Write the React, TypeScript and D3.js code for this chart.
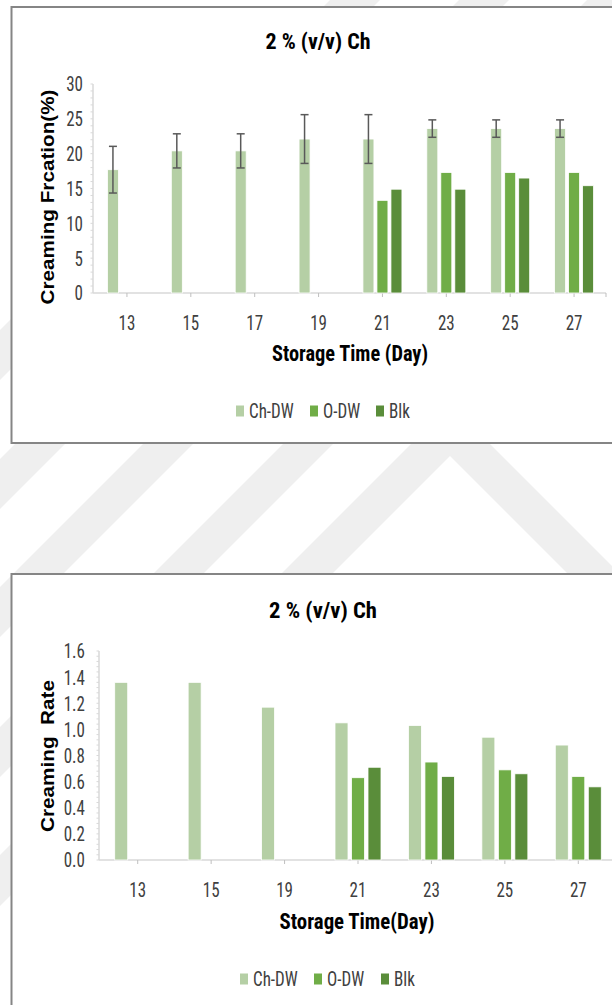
import React from 'react';
import * as d3 from 'd3';

// ---- Data ----------------------------------------------------------------
const seriesNames = ['Ch-DW', 'O-DW', 'Blk'];
const seriesColors = ['#B5CFA5', '#70AD47', '#5A8D3A'];

// Creaming fraction (%) vs storage time
const fractionDays = ['13', '15', '17', '19', '21', '23', '25', '27'];
const fractionChDW = [17.7, 20.4, 20.4, 22.1, 22.1, 23.6, 23.6, 23.6];
const fractionODW = [null, null, null, null, 13.3, 17.3, 17.3, 17.3];
const fractionBlk = [null, null, null, null, 14.9, 14.9, 16.5, 15.4];
const fractionChDWError = [3.35, 2.45, 2.45, 3.5, 3.5, 1.25, 1.25, 1.25];
const fractionTicks = [0, 5, 10, 15, 20, 25, 30];

// Creaming rate vs storage time
const rateDays = ['13', '15', '19', '21', '23', '25', '27'];
const rateChDW = [1.36, 1.36, 1.17, 1.05, 1.03, 0.94, 0.88];
const rateODW = [null, null, null, 0.63, 0.75, 0.69, 0.64];
const rateBlk = [null, null, null, 0.71, 0.64, 0.66, 0.56];
const rateTicks = [0, 0.2, 0.4, 0.6, 0.8, 1.0, 1.2, 1.4, 1.6];

// Faint diagonal background bands (x + y offsets)
const watermarkBands = [330, 459, 587, 727];

const NARROW = '"Liberation Sans Narrow", "Arial Narrow", "Roboto Condensed", sans-serif';
const WIDE = '"Liberation Sans", Arial, sans-serif';
const STRETCH = 1.22; // text is drawn taller than wide

type Layout = {
  frameY: number;
  frameH: number;
  x0: number;
  axisX: number;
  x1: number;
  yTop: number;
  yBottom: number;
  barW: number;
  gap: number;
  title: [number, number, number];
  yTitle: [number, number, number];
  xTitle: [number, number, number];
  xLabelY: number;
  yLabelX: number;
  legendY: number;
  legendX: number[];
  endTick: boolean;
  minorStep: number;
};

type TProps = {
  x: number;
  y: number;
  anchor?: 'start' | 'middle' | 'end';
  size: number;
  bold?: boolean;
  family?: string;
  fill?: string;
  length?: number;
  dy?: string;
  rotate?: number;
  children: React.ReactNode;
};

// Text placed at (x, y) and stretched vertically
function SText({ x, y, anchor = 'start', size, bold, family = NARROW, fill = '#404040', length, dy, rotate = 0, children }: TProps) {
  const tf = rotate
    ? `translate(${x},${y}) rotate(${rotate}) scale(${STRETCH},1)`
    : `translate(${x},${y}) scale(1,${STRETCH})`;
  return (
    <g transform={tf}>
      <text
        x={0}
        y={0}
        dy={dy}
        textAnchor={anchor}
        fontFamily={family}
        fontWeight={bold ? 'bold' : 'normal'}
        fontSize={size}
        fill={fill}
        textLength={length}
        lengthAdjust={length ? 'spacingAndGlyphs' : undefined}
        style={{ whiteSpace: 'pre' }}
      >
        {children}
      </text>
    </g>
  );
}

type ChartProps = {
  days: string[];
  values: (number | null)[][];
  errors?: number[];
  ticks: number[];
  format: (v: number) => string;
  yTitle: string;
  xTitle: string;
  layout: Layout;
};

function Chart({ days, values, errors, ticks, format, yTitle, xTitle, layout: L }: ChartProps) {
  const x = d3.scaleBand<string>().domain(days).range([L.x0, L.x1]).paddingInner(0).paddingOuter(0);
  const y = d3
    .scaleLinear()
    .domain([0, ticks[ticks.length - 1]])
    .range([L.yBottom, L.yTop]);
  const center = (d: string) => (x(d) as number) + x.bandwidth() / 2;
  const minor = d3.range(0, ticks[ticks.length - 1] + 1e-9, L.minorStep);

  return (
    <g>
      <rect x={11.5} y={L.frameY} width={640} height={L.frameH} fill="#fff" stroke="#858585" strokeWidth={2} />
      <SText x={L.title[0]} y={L.title[1]} anchor="middle" size={18} bold fill="#000" length={L.title[2]}>
        2 % (v/v) Ch
      </SText>

      {/* y axis */}
      <line x1={L.axisX} x2={L.axisX} y1={L.yTop} y2={L.yBottom} stroke="#d9d9d9" strokeWidth={1.5} />
      {minor.map((v, i) => (
        <line key={'m' + i} x1={L.axisX - 2.5} x2={L.axisX} y1={y(v)} y2={y(v)} stroke="#d9d9d9" strokeWidth={1} />
      ))}
      {ticks.map((t) => (
        <SText key={'yt' + t} x={L.yLabelX} y={y(t)} dy="0.36em" anchor="end" size={17}>
          {format(t)}
        </SText>
      ))}

      {/* x axis */}
      <line x1={L.axisX} x2={L.x1} y1={L.yBottom} y2={L.yBottom} stroke="#d9d9d9" strokeWidth={1.5} />
      {days.map((d) => (
        <g key={'xt' + d}>
          <line x1={center(d)} x2={center(d)} y1={L.yBottom} y2={L.yBottom + 4} stroke="#bfbfbf" strokeWidth={1} />
          <SText x={center(d)} y={L.xLabelY} anchor="middle" size={17}>
            {d}
          </SText>
        </g>
      ))}
      {L.endTick && (
        <line x1={L.x1} x2={L.x1} y1={L.yBottom} y2={L.yBottom + 4} stroke="#bfbfbf" strokeWidth={1} />
      )}

      {/* bars */}
      {values.map((series, si) =>
        series.map((v, di) => {
          if (v == null) return null;
          const cx = center(days[di]) + (si - 1) * (L.barW + L.gap);
          return (
            <rect
              key={`b${si}-${di}`}
              x={cx - L.barW / 2}
              y={y(v)}
              width={L.barW}
              height={y(0) - y(v)}
              fill={seriesColors[si]}
              stroke="#ffffff"
              strokeWidth={0.8}
            />
          );
        })
      )}

      {/* error bars on the first series */}
      {errors &&
        errors.map((e, di) => {
          const v = values[0][di];
          if (v == null) return null;
          const cx = center(days[di]) - (L.barW + L.gap);
          return (
            <g key={'e' + di} stroke="#595959" strokeWidth={1.5}>
              <line x1={cx} x2={cx} y1={y(v + e)} y2={y(v - e)} />
              <line x1={cx - 4} x2={cx + 4} y1={y(v + e)} y2={y(v + e)} />
              <line x1={cx - 4} x2={cx + 4} y1={y(v - e)} y2={y(v - e)} />
            </g>
          );
        })}

      {/* axis titles */}
      <SText
        x={L.yTitle[0]}
        y={L.yTitle[1]}
        rotate={-90}
        anchor="middle"
        dy="0.35em"
        family={WIDE}
        bold
        size={18.5}
        fill="#000"
        length={L.yTitle[2] / STRETCH}
      >
        {yTitle}
      </SText>
      <SText x={L.xTitle[0]} y={L.xTitle[1]} anchor="middle" size={18} bold fill="#000" length={L.xTitle[2]}>
        {xTitle}
      </SText>

      {/* legend */}
      {seriesNames.map((name, i) => (
        <g key={'lg' + name}>
          <rect x={L.legendX[i]} y={L.legendY - 5.5} width={8} height={11} fill={seriesColors[i]} />
          <SText x={L.legendX[i] + 13} y={L.legendY} dy="0.36em" size={17}>
            {name}
          </SText>
        </g>
      ))}
    </g>
  );
}

const fractionLayout: Layout = {
  frameY: 7,
  frameH: 436,
  x0: 95,
  axisX: 93,
  x1: 606,
  yTop: 84,
  yBottom: 293,
  barW: 11,
  gap: 3,
  title: [318, 49, 105],
  yTitle: [48, 197, 215],
  xTitle: [350, 361, 156],
  xLabelY: 330,
  yLabelX: 83,
  legendY: 411,
  legendX: [236, 310, 376],
  endTick: true,
  minorStep: 1,
};

const rateLayout: Layout = {
  frameY: 574,
  frameH: 460,
  x0: 101,
  axisX: 99,
  x1: 615,
  yTop: 651,
  yBottom: 860,
  barW: 13,
  gap: 3.5,
  title: [323, 618, 108],
  yTitle: [48, 756, 152],
  xTitle: [357, 929, 155],
  xLabelY: 897,
  yLabelX: 85,
  legendY: 979,
  legendX: [240, 314, 381],
  endTick: false,
  minorStep: 0.04,
};

export default function App() {
  const W = 612;
  const H = 1005;
  const bandW = 50;
  return (
    <svg
      width={W}
      height={H}
      viewBox={`0 0 ${W} ${H}`}
      style={{ position: 'absolute', left: 0, top: 0, background: '#fff' }}
    >
      <rect width={W} height={H} fill="#fff" />
      <g fill="#efefef">
        {watermarkBands.map((c) => (
          <polygon
            key={'wm' + c}
            points={`${c + 100},-100 ${c + bandW + 100},-100 ${c + bandW - 1100},1100 ${c - 1100},1100`}
          />
        ))}
        <polygon points="-150,1005 450.5,404.5 1051,1005 999,1005 450,456 -99,1005" />
      </g>

      <Chart
        days={fractionDays}
        values={[fractionChDW, fractionODW, fractionBlk]}
        errors={fractionChDWError}
        ticks={fractionTicks}
        format={(v) => String(v)}
        yTitle="Creaming Frcation(%)"
        xTitle="Storage Time (Day)"
        layout={fractionLayout}
      />
      <Chart
        days={rateDays}
        values={[rateChDW, rateODW, rateBlk]}
        ticks={rateTicks}
        format={(v) => v.toFixed(1)}
        yTitle="Creaming  Rate"
        xTitle="Storage Time(Day)"
        layout={rateLayout}
      />
    </svg>
  );
}
